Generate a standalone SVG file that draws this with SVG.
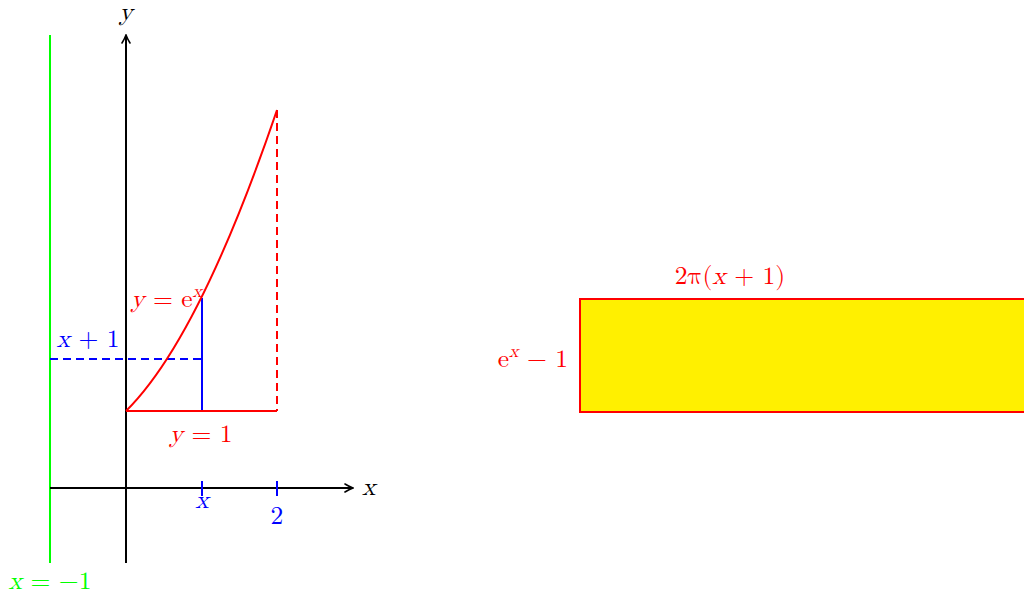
<svg xmlns="http://www.w3.org/2000/svg" width="1024" height="593" viewBox="0 0 1024 593">
<style>
text{font-family:"Latin Modern Math","Liberation Serif",serif;font-size:25.5px}
.i{font-style:italic}
.red{fill:#ff0000}.blue{fill:#0000ff}.green{fill:#00ff00}.blk{fill:#000}
.ax{stroke:#000;stroke-width:2;fill:none}
</style>
<defs>
<marker id="arr" viewBox="0 0 10 10" refX="8" refY="5" markerWidth="10" markerHeight="10" markerUnits="userSpaceOnUse" orient="auto">
<path d="M1,1 Q5,3.5 9,5 Q5,6.5 1,9" fill="none" stroke="#000" stroke-width="1.6" stroke-linecap="round"/>
</marker>
</defs>
<rect width="1024" height="593" fill="#fff"/>
<g id="rect-node">
<rect x="580" y="299" width="460" height="113" fill="#fff000" stroke="#ff0000" stroke-width="2"/>
<text class="red" x="730" y="284" text-anchor="middle">2π(<tspan class="i">x</tspan> + 1)</text>
<text class="red" x="568" y="367" text-anchor="end">e<tspan class="i" font-size="18" dy="-10">x</tspan><tspan dy="10"> − 1</tspan></text>
</g>
<g id="connectors">
<line x1="50" y1="35" x2="50" y2="563" stroke="#00ff00" stroke-width="2"/>
<line class="ax" x1="50" y1="488" x2="352" y2="488" marker-end="url(#arr)"/>
<line class="ax" x1="126" y1="563" x2="126" y2="36" marker-end="url(#arr)"/>
<line x1="50" y1="359" x2="202" y2="359" stroke="#0000ff" stroke-width="2" stroke-dasharray="8,5"/>
<line x1="202" y1="298" x2="202" y2="411" stroke="#0000ff" stroke-width="2"/>
<line x1="202" y1="481" x2="202" y2="496" stroke="#0000ff" stroke-width="2"/>
<line x1="277" y1="481" x2="277" y2="496" stroke="#0000ff" stroke-width="2"/>
<path d="M126,411 Q199,339 277,110" fill="none" stroke="#ff0000" stroke-width="2"/>
<line x1="126" y1="411" x2="277" y2="411" stroke="#ff0000" stroke-width="2"/>
<line x1="277" y1="110" x2="277" y2="411" stroke="#ff0000" stroke-width="2" stroke-dasharray="8,5"/>
</g>
<g id="labels">
<text class="i blk" x="126" y="20" text-anchor="middle">y</text>
<text class="i blk" x="362" y="495">x</text>
<text class="i blue" x="202" y="508" text-anchor="middle">x</text>
<text class="blue" x="277" y="524" text-anchor="middle">2</text>
<text class="green" x="50" y="589" text-anchor="middle"><tspan class="i">x</tspan> = −1</text>
<text class="blue" x="88" y="347" text-anchor="middle"><tspan class="i">x</tspan> + 1</text>
<text class="red" x="131" y="307"><tspan class="i">y</tspan> = e<tspan class="i" font-size="18" dy="-10">x</tspan></text>
<text class="red" x="201" y="442" text-anchor="middle"><tspan class="i">y</tspan> = 1</text>
</g>
</svg>
